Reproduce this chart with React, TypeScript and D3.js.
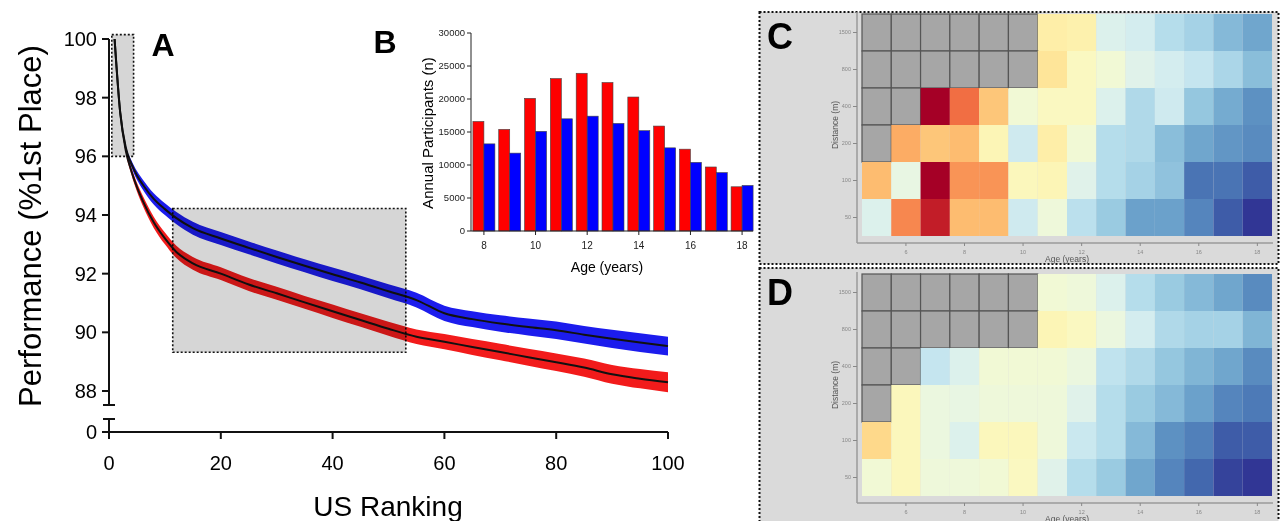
import React from 'react';
import * as d3 from 'd3';

const FONT = 'Liberation Sans, Arial, Helvetica, sans-serif';

// panel A - performance vs ranking
const ranks = [1, 2, 3, 4, 5, 6, 8, 10, 12, 15, 20, 25, 30, 35, 40, 45, 50, 55, 60, 65, 70, 75, 80, 85, 90, 95, 100];
const blueMean = [100, 97.5, 96.3, 95.75, 95.35, 95.05, 94.55, 94.2, 93.9, 93.55, 93.2, 92.88, 92.57, 92.27, 91.98, 91.7, 91.4, 91.1, 90.65, 90.45, 90.3, 90.18, 90.07, 89.92, 89.78, 89.65, 89.53];
const redMean = [100, 97.5, 96.2, 95.5, 94.95, 94.5, 93.75, 93.2, 92.75, 92.35, 92.0, 91.63, 91.33, 91.02, 90.72, 90.42, 90.12, 89.85, 89.68, 89.5, 89.33, 89.15, 88.98, 88.8, 88.57, 88.42, 88.3];
const blueSpread = [0, 0.02, 0.08, 0.12, 0.15, 0.17, 0.19, 0.2, 0.21, 0.22, 0.22, 0.22, 0.22, 0.22, 0.23, 0.23, 0.24, 0.25, 0.26, 0.27, 0.28, 0.29, 0.3, 0.3, 0.31, 0.32, 0.32];
const redSpread = [0, 0.02, 0.08, 0.12, 0.15, 0.17, 0.19, 0.2, 0.21, 0.22, 0.22, 0.22, 0.22, 0.22, 0.23, 0.23, 0.24, 0.25, 0.26, 0.27, 0.28, 0.29, 0.3, 0.31, 0.32, 0.33, 0.34];
const perfTicks = [88, 90, 92, 94, 96, 98, 100];
const rankTicks = [0, 20, 40, 60, 80, 100];

// panel B - annual participants by age
const ages = [8, 9, 10, 11, 12, 13, 14, 15, 16, 17, 18];
const redCounts = [16600, 15400, 20100, 23100, 23900, 22500, 20300, 15900, 12400, 9700, 6700];
const blueCounts = [13200, 11800, 15100, 17000, 17400, 16300, 15200, 12600, 10400, 8850, 6900];
const countTicks = [0, 5000, 10000, 15000, 20000, 25000, 30000];
const ageTicks = [8, 10, 12, 14, 16, 18];

// panels C and D - heatmaps (0 = red ... 1 = blue, null = no data)
const heatAges = [5, 6, 7, 8, 9, 10, 11, 12, 13, 14, 15, 16, 17, 18];
const distances = ['1500', '800', '400', '200', '100', '50'];
const heatAgeTicks = [6, 8, 10, 12, 14, 16, 18];
const heatC = [
  [null, null, null, null, null, null, 0.45, 0.46, 0.6, 0.62, 0.68, 0.71, 0.77, 0.81],
  [null, null, null, null, null, null, 0.42, 0.5, 0.54, 0.59, 0.62, 0.65, 0.7, 0.76],
  [null, null, 0.0, 0.2, 0.35, 0.54, 0.5, 0.5, 0.6, 0.69, 0.63, 0.74, 0.8, 0.85],
  [null, 0.3, 0.35, 0.33, 0.48, 0.63, 0.45, 0.54, 0.68, 0.69, 0.76, 0.81, 0.84, 0.86],
  [0.33, 0.57, 0.0, 0.26, 0.26, 0.49, 0.48, 0.59, 0.68, 0.71, 0.75, 0.9, 0.9, 0.94],
  [0.6, 0.24, 0.06, 0.33, 0.33, 0.63, 0.55, 0.67, 0.73, 0.82, 0.82, 0.87, 0.94, 1.0],
];
const heatD = [
  [null, null, null, null, null, null, 0.54, 0.55, 0.6, 0.68, 0.73, 0.77, 0.81, 0.86],
  [null, null, null, null, null, null, 0.48, 0.5, 0.56, 0.62, 0.69, 0.71, 0.71, 0.78],
  [null, null, 0.65, 0.6, 0.54, 0.54, 0.54, 0.56, 0.66, 0.69, 0.74, 0.78, 0.81, 0.86],
  [null, 0.49, 0.56, 0.57, 0.55, 0.55, 0.55, 0.59, 0.68, 0.73, 0.77, 0.82, 0.87, 0.89],
  [0.39, 0.49, 0.56, 0.6, 0.49, 0.49, 0.55, 0.64, 0.68, 0.77, 0.85, 0.88, 0.94, 0.94],
  [0.54, 0.49, 0.55, 0.55, 0.54, 0.5, 0.59, 0.68, 0.73, 0.81, 0.87, 0.92, 0.98, 1.0],
];

function PanelA() {
  const x = d3.scaleLinear().domain([0, 100]).range([109, 668]);
  const y = d3.scaleLinear().domain([88, 100]).range([391, 39]);
  const yZero = 432;

  const band = (mean: number[], spread: number[]) =>
    d3.area<number>()
      .x((d, i) => x(ranks[i]))
      .y0((d, i) => y(mean[i] - spread[i]))
      .y1((d, i) => y(mean[i] + spread[i]))
      .curve(d3.curveMonotoneX)(mean) || '';
  const line = (mean: number[]) =>
    d3.line<number>().x((d, i) => x(ranks[i])).y(d => y(d)).curve(d3.curveMonotoneX)(mean) || '';

  const boxes = [
    { x0: 0.5, x1: 4.4, y0: 96, y1: 100.15 },
    { x0: 11.4, x1: 53.1, y0: 89.32, y1: 94.22 },
  ];

  return (
    <g fontFamily={FONT}>
      <path d={band(blueMean, blueSpread)} fill="#1c1ced" />
      <path d={band(redMean, redSpread)} fill="#f21b1b" />
      <path d={line(blueMean)} fill="none" stroke="#111" strokeWidth={2} />
      <path d={line(redMean)} fill="none" stroke="#111" strokeWidth={2} />
      {boxes.map((b, i) => (
        <rect key={i} x={x(b.x0)} y={y(b.y1)} width={x(b.x1) - x(b.x0)} height={y(b.y0) - y(b.y1)}
          fill="#d6d6d6" stroke="#111" strokeWidth={1.6} strokeDasharray="2,2"
          style={{ mixBlendMode: 'multiply' }} />
      ))}
      {/* y axis with break */}
      <line x1={109} x2={109} y1={y(100)} y2={405} stroke="#111" strokeWidth={2} />
      <line x1={103} x2={115} y1={405} y2={405} stroke="#111" strokeWidth={2} />
      <line x1={109} x2={109} y1={419} y2={yZero} stroke="#111" strokeWidth={2} />
      <line x1={103} x2={115} y1={419} y2={419} stroke="#111" strokeWidth={2} />
      {perfTicks.map(t => (
        <g key={t}>
          <line x1={102} x2={109} y1={y(t)} y2={y(t)} stroke="#111" strokeWidth={2} />
          <text x={97} y={y(t)} dy="0.35em" textAnchor="end" fontSize={20}>{t}</text>
        </g>
      ))}
      <line x1={102} x2={109} y1={yZero} y2={yZero} stroke="#111" strokeWidth={2} />
      <text x={97} y={yZero} dy="0.35em" textAnchor="end" fontSize={20}>0</text>
      {/* x axis */}
      <line x1={109} x2={x(100)} y1={yZero} y2={yZero} stroke="#111" strokeWidth={2} />
      {rankTicks.map(t => (
        <g key={t}>
          <line x1={x(t)} x2={x(t)} y1={yZero} y2={yZero + 7} stroke="#111" strokeWidth={2} />
          <text x={x(t)} y={463} dy="0.35em" textAnchor="middle" fontSize={20}>{t}</text>
        </g>
      ))}
      <text x={388} y={506} dy="0.35em" textAnchor="middle" fontSize={28}>US Ranking</text>
      <text transform="translate(30,226) rotate(-90)" dy="0.35em" textAnchor="middle" fontSize={31}>
        Performance (%1st Place)
      </text>
      <text x={163} y={45} dy="0.35em" textAnchor="middle" fontSize={32} fontWeight="bold">A</text>
      <text x={385} y={42} dy="0.35em" textAnchor="middle" fontSize={32} fontWeight="bold">B</text>
    </g>
  );
}

function PanelB() {
  const x = d3.scaleLinear().domain([7.5, 18.5]).range([471, 755]);
  const y = d3.scaleLinear().domain([0, 30000]).range([231, 33]);
  const bw = 11;
  return (
    <g fontFamily={FONT}>
      {ages.map((a, i) => (
        <g key={a}>
          <rect x={x(a) - bw} y={y(redCounts[i])} width={bw} height={y(0) - y(redCounts[i])}
            fill="#ff0000" stroke="#444" strokeWidth={0.6} />
          <rect x={x(a)} y={y(blueCounts[i])} width={bw} height={y(0) - y(blueCounts[i])}
            fill="#0000ff" stroke="#444" strokeWidth={0.6} />
        </g>
      ))}
      <line x1={471} x2={471} y1={y(30000)} y2={y(0)} stroke="#222" strokeWidth={1} />
      <line x1={471} x2={753} y1={y(0)} y2={y(0)} stroke="#222" strokeWidth={1} />
      {countTicks.map(t => (
        <g key={t}>
          <line x1={467} x2={471} y1={y(t)} y2={y(t)} stroke="#222" />
          <text x={465} y={y(t)} dy="0.35em" textAnchor="end" fontSize={9.5} fill="#222">{t}</text>
        </g>
      ))}
      {ageTicks.map(t => (
        <g key={t}>
          <line x1={x(t)} x2={x(t)} y1={y(0)} y2={y(0) + 4} stroke="#222" />
          <text x={x(t)} y={245} dy="0.35em" textAnchor="middle" fontSize={10} fill="#222">{t}</text>
        </g>
      ))}
      <text transform="translate(428,133) rotate(-90)" dy="0.35em" textAnchor="middle" fontSize={15}>
        Annual Participants (n)
      </text>
      <text x={607} y={267} dy="0.35em" textAnchor="middle" fontSize={14}>Age (years)</text>
    </g>
  );
}

function Heatmap({ values, frameY, frameH, top, letter }:
  { values: (number | null)[][]; frameY: number; frameH: number; top: number; letter: string }) {
  const bottom = top + 222;
  const x = d3.scaleLinear().domain([4.5, 18.5]).range([862, 1272]);
  const y = d3.scaleBand<string>().domain(distances).range([top, bottom]);
  const axisY = bottom + 7;
  return (
    <g fontFamily={FONT}>
      <rect x={759.5} y={frameY} width={519} height={frameH} fill="#dadada"
        stroke="#111" strokeWidth={2} strokeDasharray="2,2" />
      {values.map((row, r) => row.map((v, c) => {
        const a = heatAges[c];
        return (
          <rect key={r + '-' + c} x={x(a - 0.5)} y={y(distances[r])} width={x(a + 0.5) - x(a - 0.5)}
            height={y.bandwidth()}
            fill={v === null ? '#a6a6a6' : d3.interpolateRdYlBu(v)}
            stroke={v === null ? '#555' : 'none'} strokeWidth={1.2} />
        );
      }))}
      <line x1={857} x2={857} y1={top - 2} y2={axisY} stroke="#9a9a9a" strokeWidth={1.5} />
      <line x1={857} x2={1273} y1={axisY} y2={axisY} stroke="#9a9a9a" strokeWidth={1.5} />
      {distances.map(d => (
        <g key={d}>
          <line x1={853} x2={857} y1={y(d)! + y.bandwidth() / 2} y2={y(d)! + y.bandwidth() / 2} stroke="#888" />
          <text x={851} y={y(d)! + y.bandwidth() / 2} dy="0.35em" textAnchor="end" fontSize={5.5} fill="#888">{d}</text>
        </g>
      ))}
      {heatAgeTicks.map(t => (
        <g key={t}>
          <line x1={x(t)} x2={x(t)} y1={axisY} y2={axisY + 3} stroke="#888" />
          <text x={x(t)} y={axisY + 9} dy="0.35em" textAnchor="middle" fontSize={5.5} fill="#888">{t}</text>
        </g>
      ))}
      <text transform={`translate(835,${(top + bottom) / 2}) rotate(-90)`} dy="0.35em" textAnchor="middle"
        fontSize={8.5} fill="#555">Distance (m)</text>
      <text x={1067} y={axisY + 16} dy="0.35em" textAnchor="middle" fontSize={8.5} fill="#555">Age (years)</text>
      <text x={780} y={frameY + 24} dy="0.35em" textAnchor="middle" fontSize={36} fontWeight="bold">{letter}</text>
    </g>
  );
}

export default function App() {
  return (
    <svg width={1283} height={521} style={{ position: 'absolute', left: 0, top: 0, background: '#fff' }}>
      <rect width={1283} height={521} fill="#fff" />
      <PanelA />
      <PanelB />
      <Heatmap values={heatC} frameY={12} frameH={252} top={14} letter="C" />
      <Heatmap values={heatD} frameY={268} frameH={262} top={274} letter="D" />
    </svg>
  );
}
